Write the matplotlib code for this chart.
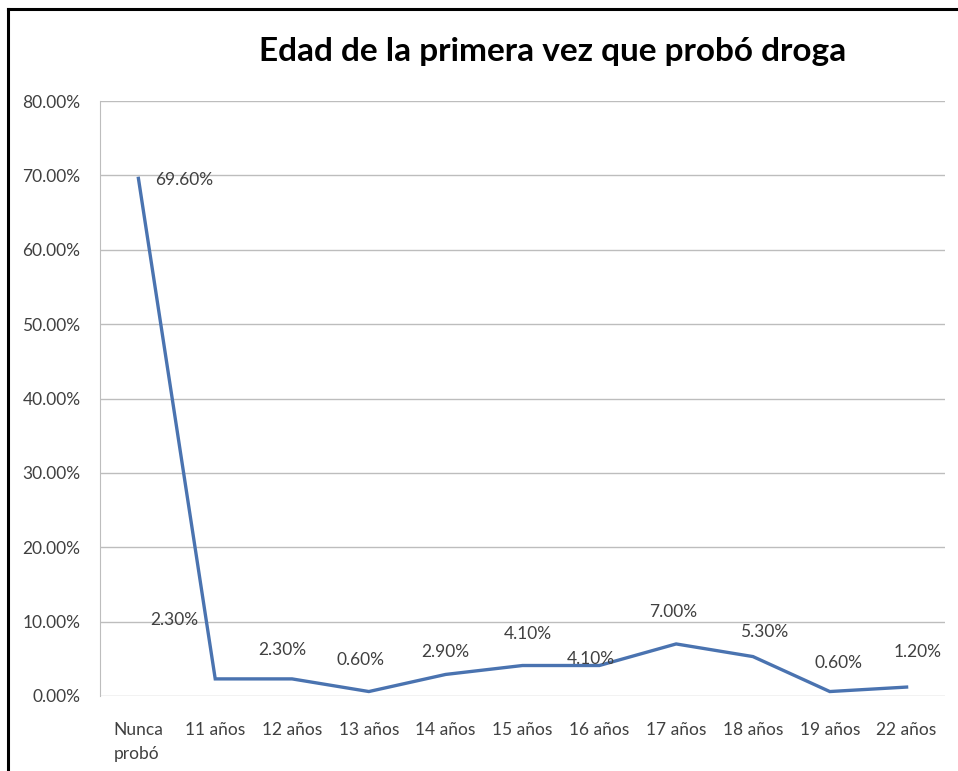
import matplotlib.pyplot as plt
from matplotlib.lines import Line2D

# %%
# Data
categories = ['Nunca\nprobó', '11 años', '12 años', '13 años', '14 años', '15 años',
              '16 años', '17 años', '18 años', '19 años', '22 años']
values = [69.6, 2.3, 2.3, 0.6, 2.9, 4.1, 4.1, 7.0, 5.3, 0.6, 1.2]
value_labels = ['69.60%', '2.30%', '2.30%', '0.60%', '2.90%', '4.10%',
                '4.10%', '7.00%', '5.30%', '0.60%', '1.20%']
yticks = [0, 10, 20, 30, 40, 50, 60, 70, 80]

# label offsets in pixels (as placed in the original)
label_offsets = [(17, -2), (-41, 59), (-10, 29), (-8, 32), (0, 22), (5, 32),
                 (-8, 7), (-3, 32), (11, 25), (9, 29), (11, 35)]

plt.rcParams['font.family'] = ['Lato', 'DejaVu Sans']

# %%
fig = plt.figure(figsize=(9.58, 7.71), dpi=100)
ax = fig.add_axes([100 / 958, 1 - 696 / 771, 845 / 958, 595 / 771])

x = list(range(len(categories)))
ax.plot(x, values, color='#4A73B0', lw=2.4, solid_joinstyle='miter', zorder=3)

for i, (v, lab) in enumerate(zip(values, value_labels)):
    dx, dy = label_offsets[i]
    ax.annotate(lab, (i, v), xytext=(dx, dy), textcoords='offset pixels',
                ha='left' if i == 0 else 'center', va='center',
                fontsize=12.5, color='#404040')

ax.set_xlim(-0.5, len(categories) - 0.5)
ax.set_ylim(0, 80)
ax.set_yticks(yticks)
ax.set_yticklabels([f'{t:.2f}%' for t in yticks], fontsize=12.5, color='#404040')
ax.set_xticks(x)
ax.set_xticklabels(categories, fontsize=12.5, color='#404040', va='top', linespacing=1.6)
for t in ax.get_xticklabels():
    t.set_multialignment('left')

ax.grid(axis='y', color='#BDBDBD', lw=1)
ax.set_axisbelow(True)
for s in ['top', 'right', 'bottom']:
    ax.spines[s].set_visible(False)
ax.spines['left'].set_color('#BDBDBD')
ax.tick_params(axis='x', length=0, pad=19)
ax.tick_params(axis='y', length=0, pad=14)

fig.text(553 / 958, 1 - 51 / 771, 'Edad de la primera vez que probó droga',
         ha='center', va='center', fontsize=24, fontweight='bold', color='black')

# frame lines on top and left
fig.add_artist(Line2D([8 / 958, 1], [1 - 9 / 771, 1 - 9 / 771], color='black', lw=2.2,
                      transform=fig.transFigure))
fig.add_artist(Line2D([8 / 958, 8 / 958], [0, 1 - 9 / 771], color='black', lw=2.2,
                      transform=fig.transFigure))

fig.savefig('out.png', dpi=100)
